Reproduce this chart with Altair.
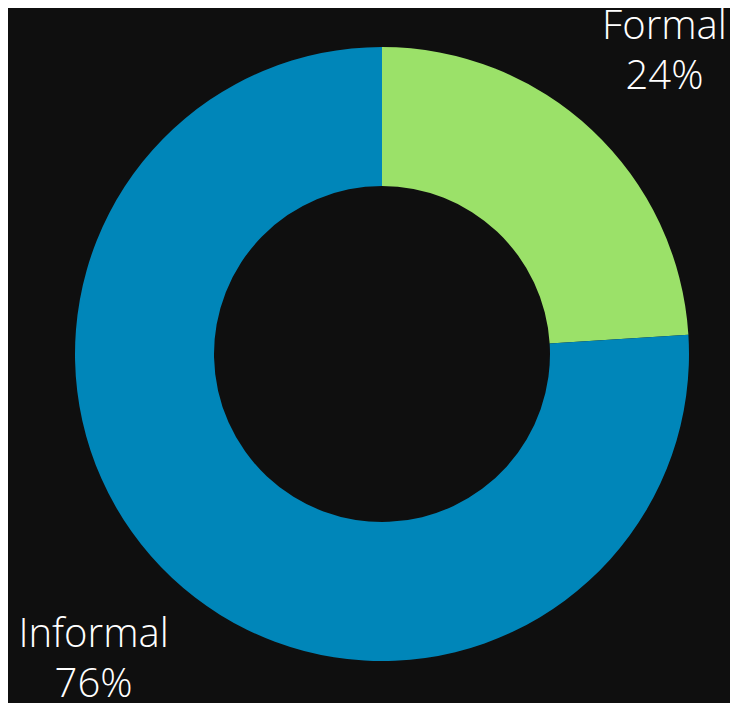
import altair as alt
import pandas as pd

categories = ["Formal", "Informal"]
values = [24, 76]
colors = ["#9be169", "#0086b9"]

df = pd.DataFrame({
    "category": categories,
    "value": values,
    "order": list(range(len(categories))),
})
df["label"] = df["category"] + "\n" + df["value"].astype(str) + "%"

base = alt.Chart(df).encode(
    theta=alt.Theta("value:Q", stack=True),
    order=alt.Order("order:Q"),
)

arcs = base.mark_arc(outerRadius=307, innerRadius=168, stroke=None).encode(
    color=alt.Color("category:N", scale=alt.Scale(domain=categories, range=colors), legend=None),
    x=alt.value(374),
    y=alt.value(346),
)

labels = base.mark_text(
    radius=417, font="Open Sans", fontSize=40, fontWeight=300, dx=-3, dy=-23,
    color="white", lineBreak="\n", lineHeight=50, align="center", baseline="middle",
).encode(
    text="label:N",
    x=alt.value(374),
    y=alt.value(346),
)

chart = alt.layer(arcs, labels).properties(
    width=722, height=695, background="#0f0f0f", padding=0,
    autosize=alt.AutoSizeParams(type="none"),
).configure_view(stroke=None)

chart.save("out.html", embed_options={"renderer": "svg", "actions": False})
